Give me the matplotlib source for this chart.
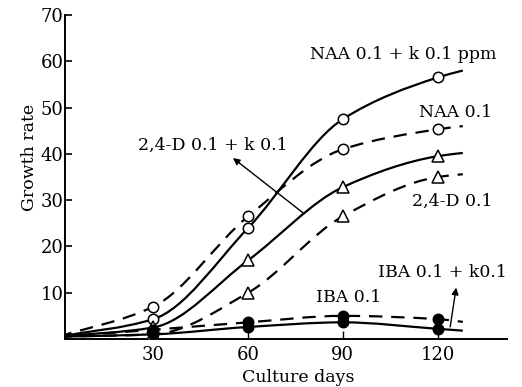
import numpy as np
import matplotlib
matplotlib.use("Agg")
import matplotlib.pyplot as plt
from matplotlib.path import Path
from matplotlib.patches import PathPatch

plt.rcParams['font.family'] = ['DejaVu Serif']

days = [0, 30, 60, 90, 120, 128]
marker_days = [30, 60, 90, 120]

naa_k = [0.5, 4.3, 24.0, 47.5, 56.5, 58.0]
naa = [0.5, 7.0, 26.5, 41.0, 45.3, 46.0]
d24_k = [0.5, 2.5, 17.0, 32.8, 39.5, 40.2]
d24 = [0.5, 1.0, 10.0, 26.5, 35.0, 35.6]
iba = [0.5, 2.0, 3.6, 5.0, 4.3, 3.7]
iba_k = [0.5, 1.0, 2.6, 3.6, 2.2, 1.8]

series = [
    (naa_k, '-', 'o', 'white'),
    (naa, '--', 'o', 'white'),
    (d24_k, '-', '^', 'white'),
    (d24, '--', '^', 'white'),
    (iba, '--', 'o', 'black'),
    (iba_k, '-', 'o', 'black'),
]

W, H = 522, 387
fig = plt.figure(figsize=(W / 100, H / 100), dpi=100)
ax = fig.add_axes([65 / W, (H - 339) / H, (507 - 65) / W, (339 - 15) / H])
ax.set_xlim(2, 142)
ax.set_ylim(0, 70)


def smooth_path(xs, ys):
    # monotone cubic (Fritsch-Carlson) tangents, drawn as Bezier segments
    x = np.asarray(xs, float)
    y = np.asarray(ys, float)
    n = len(x)
    h = np.diff(x)
    d = np.diff(y) / h
    m = np.zeros(n)
    m[0] = d[0]
    m[-1] = d[-1]
    for i in range(1, n - 1):
        if d[i - 1] * d[i] <= 0:
            m[i] = 0.0
        else:
            w1 = 2 * h[i] + h[i - 1]
            w2 = h[i] + 2 * h[i - 1]
            m[i] = (w1 + w2) / (w1 / d[i - 1] + w2 / d[i])
    verts = [(x[0], y[0])]
    codes = [Path.MOVETO]
    for i in range(n - 1):
        c1 = (x[i] + h[i] / 3, y[i] + m[i] * h[i] / 3)
        c2 = (x[i + 1] - h[i] / 3, y[i + 1] - m[i + 1] * h[i] / 3)
        verts += [c1, c2, (x[i + 1], y[i + 1])]
        codes += [Path.CURVE4] * 3
    return Path(verts, codes)


for ys, ls, mk, fc in series:
    patch = PathPatch(smooth_path(days, ys), facecolor='none', edgecolor='black',
                      lw=1.6, linestyle=(0, (6, 4)) if ls == '--' else '-')
    ax.add_patch(patch)
    my = [ys[days.index(d)] for d in marker_days]
    ax.plot(marker_days, my, linestyle='none', marker=mk, markersize=8 if mk == '^' else 7.5,
            markerfacecolor=fc, markeredgecolor='black', markeredgewidth=1.1, zorder=3)

ax.spines['top'].set_visible(False)
ax.spines['right'].set_visible(False)
ax.spines['left'].set_linewidth(1.4)
ax.spines['bottom'].set_linewidth(1.4)

ax.set_yticks([10, 20, 30, 40, 50, 60, 70])
ax.set_xticks([30, 60, 90, 120])
ax.tick_params(axis='y', direction='in', length=5, width=1.2, labelsize=13, pad=1)
ax.tick_params(axis='x', direction='in', length=6, width=1.0, labelsize=13, pad=5)

ax.set_ylabel('Growth rate', fontsize=12.5, va='center')
ax.yaxis.set_label_coords((29 - 65) / (507 - 65), (339 - 157) / (339 - 15))
ax.set_xlabel('Culture days', fontsize=12.5, va='center')
ax.xaxis.set_label_coords((298 - 65) / (507 - 65), (339 - 377) / (339 - 15))

fs = 12.5
ax.text(109, 61.5, 'NAA 0.1 + k 0.1 ppm', ha='center', va='center', fontsize=fs)
ax.text(125.7, 49, 'NAA 0.1', ha='center', va='center', fontsize=fs)
ax.text(124.8, 29.8, '2,4-D 0.1', ha='center', va='center', fontsize=fs)
ax.text(91.7, 9, 'IBA 0.1', ha='center', va='center', fontsize=fs)
ax.text(121.6, 14.3, 'IBA 0.1 + k0.1', ha='center', va='center', fontsize=fs)
ax.text(48.9, 41.9, '2,4-D 0.1 + k 0.1', ha='center', va='center', fontsize=fs)

ax.annotate('', xy=(55.2, 39.1), xytext=(77.5, 27.2),
            arrowprops=dict(arrowstyle='-|>', color='black', lw=1.0, mutation_scale=10, shrinkA=0, shrinkB=0))
ax.annotate('', xy=(125.9, 11.1), xytext=(124, 2.6),
            arrowprops=dict(arrowstyle='-|>', color='black', lw=1.0, mutation_scale=10, shrinkA=0, shrinkB=0))

fig.savefig('out.png', dpi=100)
